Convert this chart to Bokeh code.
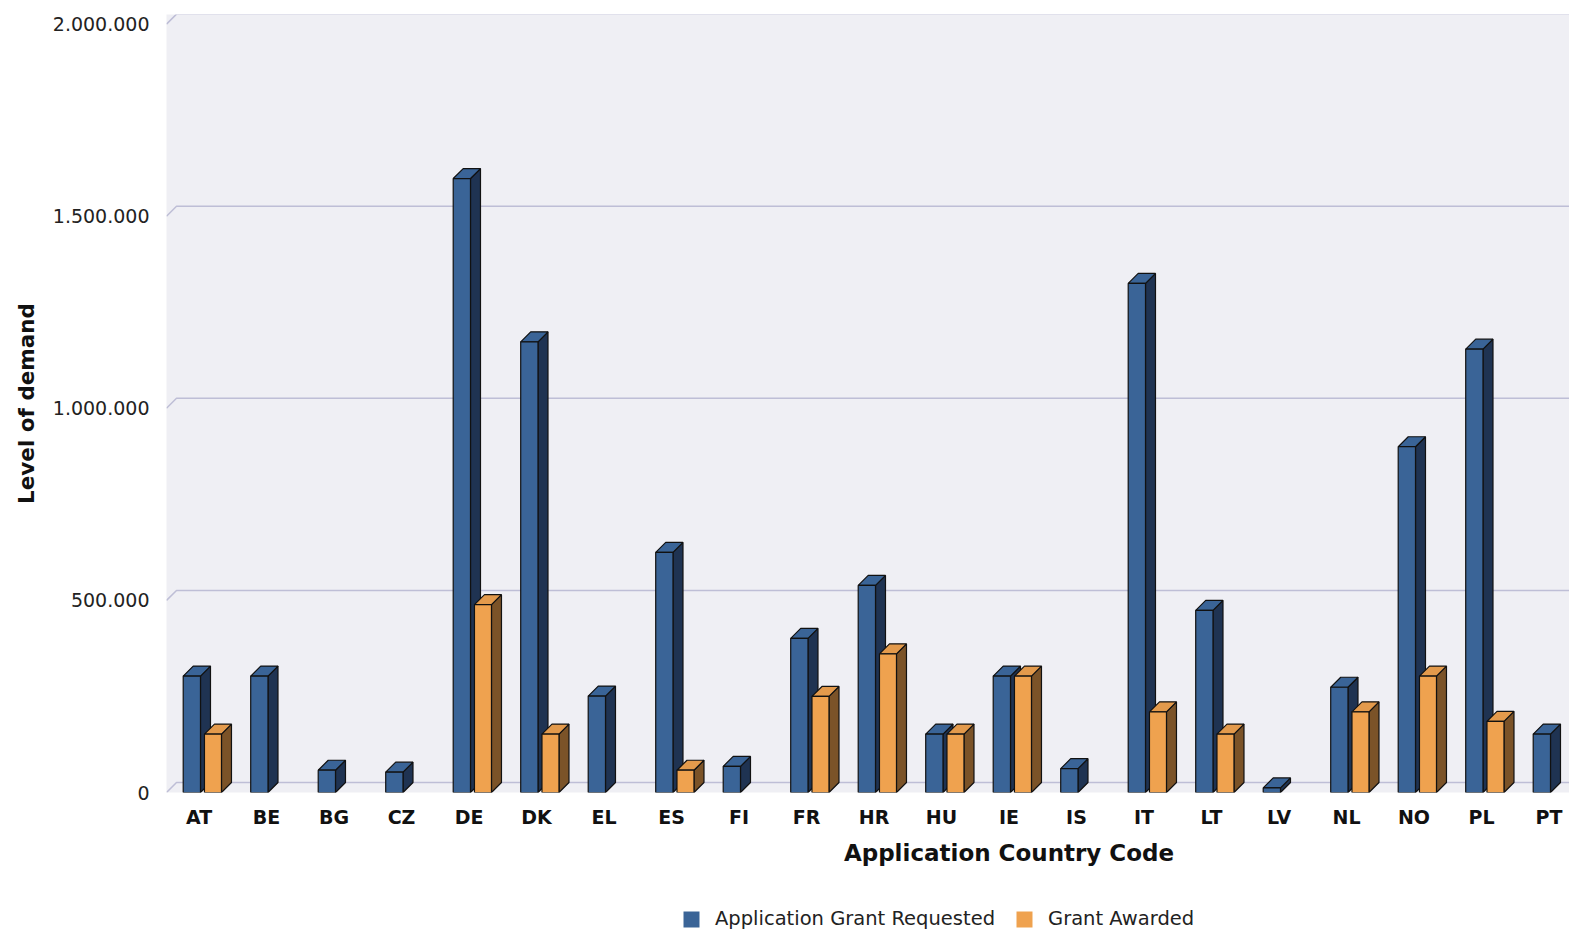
from bokeh.plotting import figure
from bokeh.layouts import column
from bokeh.models import Range1d, FixedTicker, Legend, LegendItem, ColumnDataSource
from bokeh.core.properties import value
from bokeh.embed import file_html
from bokeh.resources import INLINE

# ---------------- data ----------------
codes = ["AT", "BE", "BG", "CZ", "DE", "DK", "EL", "ES", "FI", "FR", "HR",
         "HU", "IE", "IS", "IT", "LT", "LV", "NL", "NO", "PL", "PT"]
requested = [303000, 303000, 58000, 53000, 1598000, 1173000, 251000, 625000,
             68000, 401000, 539000, 152000, 303000, 62000, 1325000, 474000,
             12000, 274000, 900000, 1154000, 152000]
awarded = [152000, None, None, None, 489000, 152000, None, 58000, None,
           250000, 361000, 152000, 303000, None, 210000, 152000, None,
           210000, 303000, 185000, None]
series_names = ["Application Grant Requested", "Grant Awarded"]
y_tick_values = [0, 500000, 1000000, 1500000, 2000000]
y_tick_labels = ["0", "500.000", "1.000.000", "1.500.000", "2.000.000"]
x_title = "Application Country Code"
y_title = "Level of demand"

# ---------------- styling ----------------
FRONT = ["#3A6497", "#EFA24F"]
SIDE = ["#1F3352", "#7B5328"]
TOP = ["#3A6497", "#E39A4C"]
EDGE = "#111111"
PLOT_BG = "#EFEFF4"
GRID = "#BEBED6"

W = 1569
H_MAIN = 832
H_FOOT = 100
FRAME_L, FRAME_T, FRAME_B = 166, 14, 40

PX_PER_CAT = 67.5
X_START = -0.4815
DX = 10 / PX_PER_CAT          # 3D depth in x data units
DY = 26000                    # 3D depth in y data units
BAR_OFFS = [(-0.234, 0.022), (0.081, 0.333)]

frame_w = W - FRAME_L
x_end = X_START + frame_w / PX_PER_CAT
frame_h = H_MAIN - FRAME_T - FRAME_B
y_end = frame_h / 384.2e-6

p = figure(width=W, height=H_MAIN, output_backend="svg", toolbar_location=None,
           x_range=Range1d(X_START, x_end), y_range=Range1d(0, y_end),
           min_border_left=FRAME_L, min_border_right=0,
           min_border_top=FRAME_T, min_border_bottom=FRAME_B)
p.background_fill_color = PLOT_BG
p.border_fill_color = "white"
p.outline_line_color = None
p.xgrid.visible = False
p.ygrid.visible = False

# gridlines on the back wall, with a diagonal connector on the left wall
gx, gy = [], []
for v in y_tick_values:
    gx.append([X_START, X_START + DX, x_end])
    gy.append([v, v + DY, v + DY])
p.multi_line(gx, gy, line_color=GRID, line_width=1.5)

# 3D bars
for s, vals in enumerate([requested, awarded]):
    lo, hi = BAR_OFFS[s]
    fl, fr, ft = [], [], []
    sx, sy, tx, ty = [], [], [], []
    for i, v in enumerate(vals):
        if v is None:
            continue
        xl, xr = i + lo, i + hi
        fl.append(xl); fr.append(xr); ft.append(v)
        sx.append([xr, xr + DX, xr + DX, xr])
        sy.append([0, DY, v + DY, v])
        tx.append([xl, xl + DX, xr + DX, xr])
        ty.append([v, v + DY, v + DY, v])
    p.patches(sx, sy, fill_color=SIDE[s], line_color=EDGE, line_width=1.2)
    p.patches(tx, ty, fill_color=TOP[s], line_color=EDGE, line_width=1.2)
    p.quad(left=fl, right=fr, bottom=[0] * len(fl), top=ft,
           fill_color=FRONT[s], line_color=EDGE, line_width=1.2)

# axes
xa = p.xaxis[0]
xa.ticker = FixedTicker(ticks=list(range(len(codes))))
xa.major_label_overrides = {i: c for i, c in enumerate(codes)}
xa.major_label_text_font = "DejaVu Sans"
xa.major_label_text_font_style = "bold"
xa.major_label_text_font_size = "19px"
xa.major_label_text_color = "#111111"
xa.major_label_standoff = 7
xa.axis_line_color = None
xa.major_tick_line_color = None
xa.minor_tick_line_color = None

ya = p.yaxis[0]
ya.ticker = FixedTicker(ticks=y_tick_values)
ya.major_label_overrides = dict(zip(y_tick_values, y_tick_labels))
ya.major_label_text_font = "DejaVu Sans"
ya.major_label_text_font_size = "19px"
ya.major_label_text_color = "#222222"
ya.major_label_standoff = 11
ya.axis_line_color = None
ya.major_tick_line_color = None
ya.minor_tick_line_color = None
ya.axis_label = y_title
ya.axis_label_text_font = "DejaVu Sans"
ya.axis_label_text_font_style = "bold"
ya.axis_label_text_font_size = "21.5px"
ya.axis_label_text_color = "#111111"
ya.axis_label_standoff = 11

# ---------------- footer: x-axis title and legend ----------------
# The column aligns the footer frame with the main frame (x from 166 to 1569),
# so the footer's x data units equal window pixels.
f = figure(width=W, height=H_FOOT, output_backend="svg", toolbar_location=None,
           x_range=Range1d(FRAME_L, W), y_range=Range1d(0, H_FOOT),
           x_axis_type=None, y_axis_type=None,
           min_border_left=FRAME_L, min_border_right=0, min_border_top=0, min_border_bottom=0)
f.outline_line_color = None
f.xgrid.visible = False
f.ygrid.visible = False
f.background_fill_color = "white"
f.border_fill_color = "white"

# the whole chart is wider than the visible window, so the title sits off-frame-centre
f.text(x=[1008.5], y=[80], text=[x_title],
       text_font=value("DejaVu Sans"), text_font_style="bold",
       text_font_size="23px", text_color="#111111",
       text_align="center", text_baseline="middle")

nan = float("nan")
swatches = []
for k in range(2):
    src = ColumnDataSource(dict(left=[nan], right=[nan], bottom=[nan], top=[nan]))
    swatches.append(f.quad(left="left", right="right", bottom="bottom", top="top",
                           source=src, fill_color=FRONT[k], line_alpha=0))
legend = Legend(items=[LegendItem(label=series_names[k], renderers=[swatches[k]], index=0)
                       for k in range(2)],
                orientation="horizontal", location=(681 - FRAME_L, 2),
                padding=0, margin=0, spacing=19,
                glyph_width=20, glyph_height=20, label_standoff=14, label_height=16,
                label_text_font="DejaVu Sans", label_text_font_size="19.5px",
                label_text_color="#222222",
                border_line_color=None, background_fill_alpha=0)
f.add_layout(legend, "center")

layout = column(p, f, spacing=0)
open("out.html", "w").write(file_html(layout, INLINE))
